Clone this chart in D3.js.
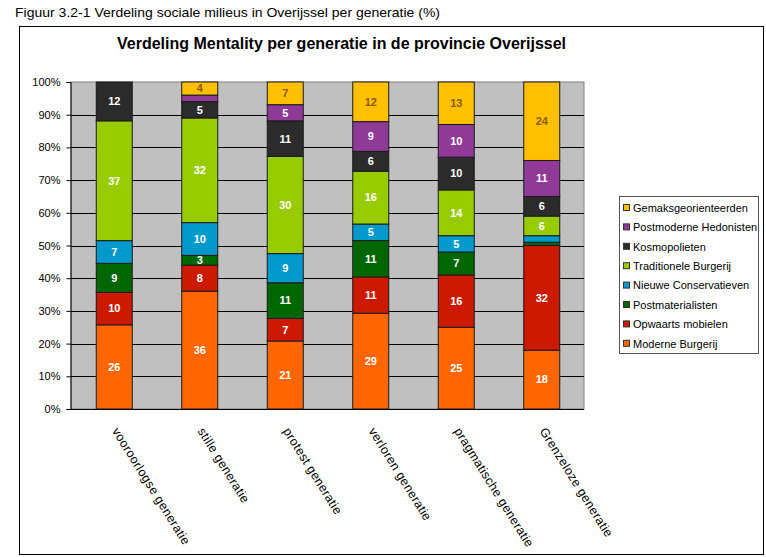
<!DOCTYPE html>
<html>
<head>
<meta charset="utf-8">
<script src="https://cdn.jsdelivr.net/npm/d3@7"></script>
<style>
  body { margin: 0; background: #fff; }
  svg { display: block; font-family: "Liberation Sans", Arial, sans-serif; }
</style>
</head>
<body>
<svg id="chart" width="766" height="557"></svg>
<script>
// ---- data ----
const categories = ["vooroorlogse generatie", "stille generatie", "protest generatie",
                    "verloren generatie", "pragmatische generatie", "Grenzeloze generatie"];
const seriesNames = ["Moderne Burgerij", "Opwaarts mobielen", "Postmaterialisten",
                     "Nieuwe Conservatieven", "Traditionele Burgerij", "Kosmopolieten",
                     "Postmoderne Hedonisten", "Gemaksgeorienteerden"];
const moderneBurgerij      = [26, 36, 21, 29, 25, 18];
const opwaartsMobielen     = [10,  8,  7, 11, 16, 32];
const postmaterialisten    = [ 9,  3, 11, 11,  7,  1];
const nieuweConservatieven = [ 7, 10,  9,  5,  5,  2];
const traditioneleBurgerij = [37, 32, 30, 16, 14,  6];
const kosmopolieten        = [12,  5, 11,  6, 10,  6];
const postmoderneHedonisten= [ 0,  2,  5,  9, 10, 11];
const gemaksgeorienteerden = [ 0,  4,  7, 12, 13, 24];
const yTickLabels = ["0%","10%","20%","30%","40%","50%","60%","70%","80%","90%","100%"];
const colors = ["#FF6600", "#CC1A00", "#006600", "#0099CC", "#99CC00", "#2B2B2B", "#8E3A96", "#FFC000"];
const labelColors = ["#fff", "#fff", "#fff", "#fff", "#fff", "#fff", "#fff", "#8A5A00"];

const seriesValues = [moderneBurgerij, opwaartsMobielen, postmaterialisten, nieuweConservatieven,
                      traditioneleBurgerij, kosmopolieten, postmoderneHedonisten, gemaksgeorienteerden];
const rows = categories.map((c, i) => {
  const r = { cat: c };
  seriesNames.forEach((s, j) => r[s] = seriesValues[j][i]);
  return r;
});

const svg = d3.select("#chart");

// caption
svg.append("text").attr("x", 15).attr("y", 17).attr("font-size", 13.5).attr("fill", "#000")
  .attr("textLength", 425).attr("lengthAdjust", "spacingAndGlyphs")
  .text("Figuur 3.2-1 Verdeling sociale milieus in Overijssel per generatie (%)");

// frame
svg.append("rect").attr("x", 19.5).attr("y", 26.5).attr("width", 744).attr("height", 528)
  .attr("fill", "#fff").attr("stroke", "#000").attr("stroke-width", 1);

// title
svg.append("text").attr("x", 117).attr("y", 49).attr("font-size", 16).attr("font-weight", "bold")
  .attr("fill", "#000").text("Verdeling Mentality per generatie in de provincie Overijssel");

const plot = { left: 71, right: 584, top: 82, bottom: 409 };
const x = d3.scaleBand().domain(categories).range([plot.left, plot.right])
  .paddingInner(0.579).paddingOuter(0.2895);
const y = d3.scaleLinear().domain([0, 1]).range([plot.bottom, plot.top]);

// plot background
svg.append("rect").attr("x", plot.left).attr("y", plot.top)
  .attr("width", plot.right - plot.left).attr("height", plot.bottom - plot.top)
  .attr("fill", "#C0C0C0").attr("stroke", "#808080").attr("stroke-width", 1);

// gridlines
const ticks = d3.range(0, 11).map(d => d / 10);
svg.append("g").selectAll("line").data(ticks.slice(1, 10)).join("line")
  .attr("x1", plot.left).attr("x2", plot.right)
  .attr("y1", d => Math.round(y(d)) + 0.5).attr("y2", d => Math.round(y(d)) + 0.5)
  .attr("stroke", "#000").attr("stroke-width", 1);

// y axis
const yAxis = d3.axisLeft(y).tickValues(ticks).tickSize(4).tickPadding(6)
  .tickFormat((d, i) => yTickLabels[i]);
const gy = svg.append("g").attr("transform", `translate(${plot.left - 0.5},0)`).call(yAxis);
gy.select(".domain").attr("stroke", "#000");
gy.selectAll(".tick line").attr("stroke", "#000");
gy.selectAll(".tick text").attr("font-size", 11).attr("fill", "#000")
  .attr("font-family", "Liberation Sans, Arial, sans-serif");

// stacked bars
const stack = d3.stack().keys(seriesNames).offset(d3.stackOffsetExpand);
const stacked = stack(rows);

const layers = svg.append("g").selectAll("g").data(stacked).join("g")
  .attr("fill", (d, i) => colors[i]);
layers.selectAll("rect").data(d => d.filter(p => p[1] - p[0] > 0)).join("rect")
  .attr("x", d => x(d.data.cat) + 0.5)
  .attr("width", x.bandwidth())
  .attr("y", d => y(d[1]))
  .attr("height", d => y(d[0]) - y(d[1]))
  .attr("stroke", "#1a1a1a").attr("stroke-width", 1);

// segment labels
stacked.forEach((layer, i) => {
  svg.append("g").selectAll("text")
    .data(layer.filter(p => p.data[layer.key] >= 3))
    .join("text")
    .attr("x", d => x(d.data.cat) + x.bandwidth() / 2 + 0.5)
    .attr("y", d => (y(d[0]) + y(d[1])) / 2)
    .attr("dy", "0.35em")
    .attr("text-anchor", "middle")
    .attr("font-size", 11).attr("font-weight", "bold")
    .attr("fill", labelColors[i])
    .text(d => d.data[layer.key]);
});

// x axis line
svg.append("line").attr("x1", plot.left - 4).attr("x2", plot.right)
  .attr("y1", plot.bottom + 0.5).attr("y2", plot.bottom + 0.5).attr("stroke", "#000");

// x labels, rotated
svg.append("g").selectAll("text").data(categories).join("text")
  .attr("transform", d => `translate(${x(d) + x.bandwidth() / 2 - 2},${plot.bottom + 22}) rotate(58)`)
  .attr("font-size", 12.5).attr("letter-spacing", 0.35).attr("fill", "#000")
  .text(d => d);

// legend
const legend = { x: 619, y: 196, w: 139, h: 157 };
svg.append("rect").attr("x", legend.x + 0.5).attr("y", legend.y + 0.5)
  .attr("width", legend.w).attr("height", legend.h)
  .attr("fill", "#fff").attr("stroke", "#555");
const legendOrder = seriesNames.map((s, i) => i).reverse();
const lg = svg.append("g").selectAll("g").data(legendOrder).join("g")
  .attr("transform", (d, k) => `translate(${legend.x + 4},${legend.y + 12 + k * 19.4})`);
lg.append("rect").attr("x", 0.5).attr("y", -3.5).attr("width", 6).attr("height", 6)
  .attr("fill", d => colors[d]).attr("stroke", "#333");
lg.append("text").attr("x", 10).attr("y", 0).attr("dy", "0.35em")
  .attr("font-size", 11).attr("fill", "#000").text(d => seriesNames[d]);
</script>
</body>
</html>
